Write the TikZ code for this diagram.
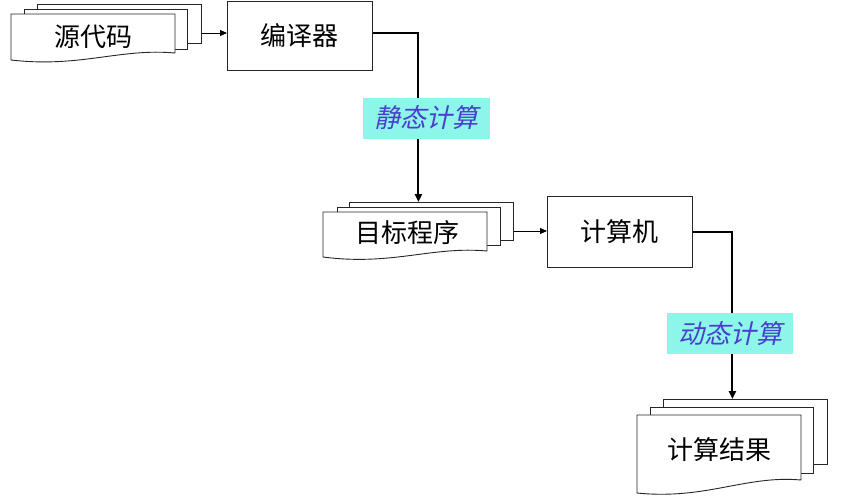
\documentclass[tikz,border=0pt]{standalone}
\usepackage{fontspec}
\newfontfamily\cjk{Noto Sans CJK SC}
\newfontfamily\cjkit[FakeSlant=0.22]{Noto Sans CJK SC}
\usetikzlibrary{arrows.meta,calc}
\definecolor{lblbg}{RGB}{142,245,234}
\definecolor{lbltxt}{RGB}{72,64,205}
\tikzset{
  x=1pt,y=-1pt,
  sheet/.style={draw=black!85,fill=white,line width=0.9pt,inner sep=0pt,anchor=north west},
  boxnode/.style={draw=black!85,fill=white,line width=0.9pt,inner sep=0pt,anchor=north west,font=\cjk\fontsize{26}{28}\selectfont},
  doctext/.style={font=\cjk\fontsize{26}{28}\selectfont,inner sep=0pt},
  lbl/.style={fill=lblbg,inner sep=0pt,minimum width=127pt,minimum height=41pt,text=lbltxt,font=\cjkit\fontsize{26}{28}\selectfont},
  thinarrow/.style={line width=0.9pt,-{Triangle[length=7pt,width=6pt]}},
  thickarrow/.style={line width=2pt,-{Triangle[length=8pt,width=7pt]}}
}
\begin{document}
\begin{tikzpicture}
\useasboundingbox (0,0) rectangle (857,501);
% ---- source code stack
\node[sheet,minimum width=164pt,minimum height=39pt] (srcb) at (37,4) {};
\node[sheet,minimum width=163pt,minimum height=40pt] (srcm) at (24,9) {};
\draw[line width=0.9pt,draw=black!85,fill=white] (11,14) -- (175,14) -- (175,53) .. controls (120,48) and (80,68) .. (11,60) -- cycle;
\node[doctext] (src) at (93,37) {源代码};
% ---- compiler
\node[boxnode,minimum width=145pt,minimum height=69pt] (comp) at (227,1) {编译器};
% ---- target program stack
\node[sheet,minimum width=164pt,minimum height=38pt] (tgtb) at (349,202) {};
\node[sheet,minimum width=163pt,minimum height=38pt] (tgtm) at (337,207) {};
\draw[line width=0.9pt,draw=black!85,fill=white] (323,212) -- (487,212) -- (487,251) .. controls (432,246) and (392,266) .. (323,257) -- cycle;
\node[doctext] (tgt) at (407,233) {目标程序};
% ---- computer
\node[boxnode,minimum width=145pt,minimum height=71pt] (pc) at (547,196) {计算机};
% ---- result stack
\node[sheet,minimum width=164pt,minimum height=65pt] (resb) at (663,399) {};
\node[sheet,minimum width=163pt,minimum height=66pt] (resm) at (650,407) {};
\draw[line width=0.9pt,draw=black!85,fill=white] (637,415) -- (801,415) -- (801,480) .. controls (746,475) and (706,500) .. (637,493) -- cycle;
\node[doctext] (res) at (719,450) {计算结果};
% ---- connectors
\draw[thinarrow] (srcb.east |- 0,33) -- (comp.west |- 0,33);
\draw[thickarrow] (comp.east |- 0,33) -| ([xshift=-13pt]tgtb.north);
\draw[thinarrow] (tgtb.east |- 0,231) -- (pc.west |- 0,231);
\draw[thickarrow] (pc.east) -| ([xshift=-13pt]resb.north);
% ---- labels
\node[lbl] (stat) at (426.5,118) {静态计算};
\node[lbl,minimum width=126pt] (dyn) at (730,333.5) {动态计算};
\end{tikzpicture}
\end{document}
